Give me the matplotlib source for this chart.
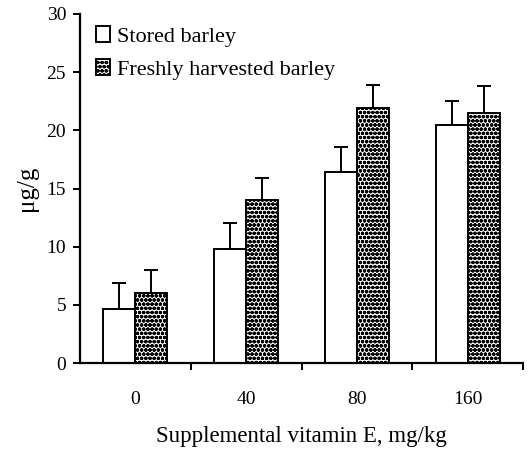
import matplotlib
matplotlib.use("Agg")
import matplotlib.pyplot as plt
import numpy as np

categories = ["0", "40", "80", "160"]
stored = [4.6, 9.8, 16.4, 20.5]
stored_err = [2.3, 2.2, 2.2, 2.0]
fresh = [6.0, 14.0, 21.9, 21.5]
fresh_err = [2.0, 1.9, 2.0, 2.3]
series_labels = ["Stored barley", "Freshly harvested barley"]

plt.rcParams['font.family'] = ['Liberation Serif', 'DejaVu Serif']
plt.rcParams['hatch.linewidth'] = 1.2

fig = plt.figure(figsize=(5.29, 4.55), dpi=100)
ax = fig.add_axes([80/529, 1-363/455, 443/529, 349/455])

x = np.arange(len(categories))
w = 0.29
ax.bar(x - w/2, stored, w, color='white', edgecolor='black', linewidth=1.4,
       label=series_labels[0])
ax.bar(x + w/2, fresh, w, color='white', edgecolor='black', linewidth=1.4,
       hatch='oooo', label=series_labels[1])
ax.errorbar(x - w/2, stored, yerr=[np.zeros(4), stored_err], fmt='none',
            ecolor='black', elinewidth=1.4, capsize=5, capthick=1.4)
ax.errorbar(x + w/2, fresh, yerr=[np.zeros(4), fresh_err], fmt='none',
            ecolor='black', elinewidth=1.4, capsize=5, capthick=1.4)

ax.set_xlim(-0.5, 3.5)
ax.set_ylim(0, 30)
ax.set_yticks([0, 5, 10, 15, 20, 25, 30])
ax.set_yticklabels(["0", "5", "10", "15", "20", "25", "30"])
ax.set_xticks(x)
ax.set_xticklabels(categories)
ax.set_xticks([0.5, 1.5, 2.5, 3.5], minor=True)
ax.tick_params(axis='x', which='major', length=0, pad=20, labelsize=14)
ax.tick_params(axis='x', which='minor', length=5, width=1.4, direction='out')
ax.tick_params(axis='y', length=5, width=1.4, direction='out', labelsize=14, pad=5)
for s in ['top', 'right']:
    ax.spines[s].set_visible(False)
for s in ['left', 'bottom']:
    ax.spines[s].set_linewidth(1.6)

ax.set_xlabel("Supplemental vitamin E, mg/kg", fontsize=16.5, labelpad=13)
ax.set_ylabel("μg/g", fontsize=18, labelpad=6)

ax.legend(loc='upper left', bbox_to_anchor=(0.0, 1.01), frameon=False,
          fontsize=16, handlelength=0.65, handleheight=0.75, handletextpad=0.3,
          labelspacing=0.55, borderaxespad=0.3)

fig.savefig("out.png", dpi=100)
